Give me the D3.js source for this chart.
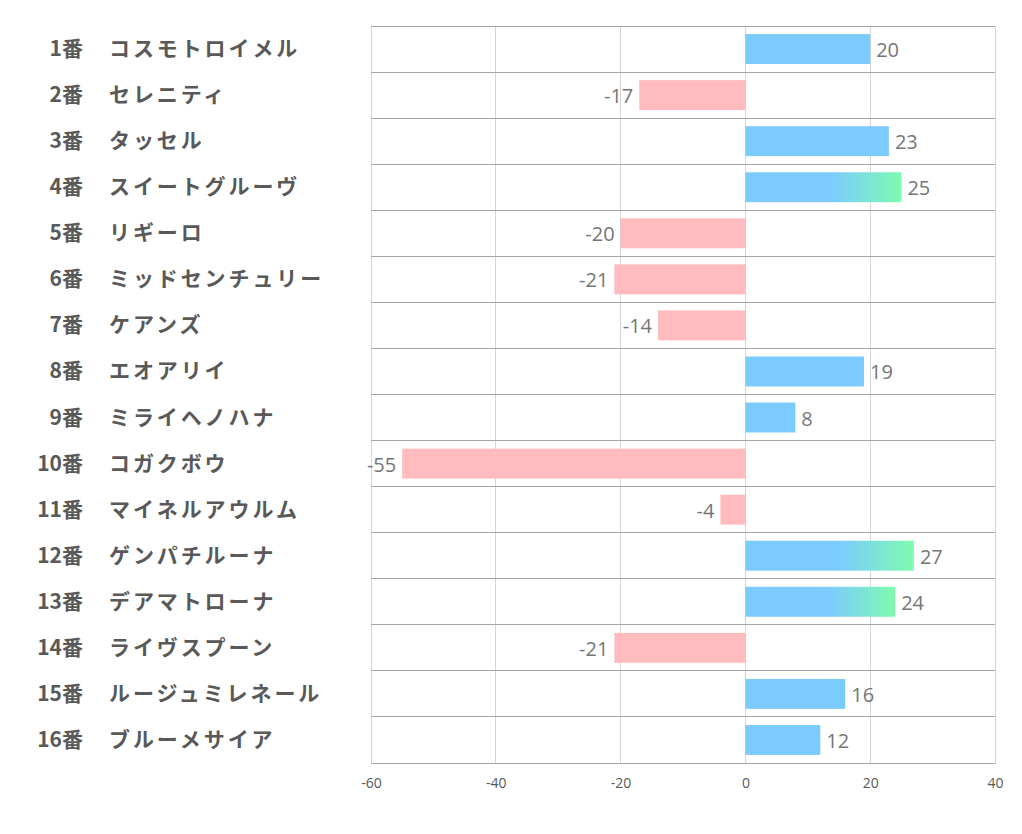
<!DOCTYPE html>
<html><head><meta charset="utf-8">
<script src="https://cdn.jsdelivr.net/npm/d3@7"></script>
<style>body{margin:0;background:#fff;}</style>
</head><body><svg id="c" width="1022" height="834"></svg>
<script>
const numbers = ["1番","2番","3番","4番","5番","6番","7番","8番","9番","10番","11番","12番","13番","14番","15番","16番"];
const names = ["コスモトロイメル","セレニティ","タッセル","スイートグルーヴ","リギーロ","ミッドセンチュリー","ケアンズ","エオアリイ","ミライヘノハナ","コガクボウ","マイネルアウルム","ゲンパチルーナ","デアマトローナ","ライヴスプーン","ルージュミレネール","ブルーメサイア"];
const values = [20,-17,23,25,-20,-21,-14,19,8,-55,-4,27,24,-21,16,12];
const highlight = [false,false,false,true,false,false,false,false,false,false,false,true,true,false,false,false];
const xTicks = [-60,-40,-20,0,20,40];

const svg = d3.select("#c");
const L=371,R=995,T=26,B=763;
const x = d3.scaleLinear().domain([-60,40]).range([L,R]);
const y = d3.scaleBand().domain(d3.range(values.length)).range([T,B]).paddingInner(0.35).paddingOuter(0.175);
const step = y.step();

const defs = svg.append("defs");
const g = defs.append("linearGradient").attr("id","grad").attr("x1","0%").attr("x2","100%").attr("y1","0%").attr("y2","0%");
g.append("stop").attr("offset","55%").attr("stop-color","#7ccbff");
g.append("stop").attr("offset","100%").attr("stop-color","#7dfbaf");

// vertical grid
svg.append("g").selectAll("line").data(xTicks).join("line")
  .attr("x1",d=>x(d)).attr("x2",d=>x(d)).attr("y1",T).attr("y2",B)
  .attr("stroke","#d4d4d4").attr("stroke-width",1).attr("shape-rendering","crispEdges");
// horizontal separators
svg.append("g").selectAll("line").data(d3.range(values.length+1)).join("line")
  .attr("x1",L).attr("x2",R).attr("y1",i=>T+i*step).attr("y2",i=>T+i*step)
  .attr("stroke","#a6a6a6").attr("stroke-width",1).attr("shape-rendering","crispEdges");

// bars
svg.append("g").selectAll("rect").data(values).join("rect")
  .attr("x",d=>x(Math.min(0,d))).attr("width",d=>Math.abs(x(d)-x(0)))
  .attr("y",(d,i)=>y(i)).attr("height",y.bandwidth())
  .attr("fill",(d,i)=>d<0?"#ffbbbe":(highlight[i]?"url(#grad)":"#7ccbff"));

// value labels
svg.append("g").selectAll("text").data(values).join("text")
  .attr("x",d=>d<0?x(d)-6:x(d)+6)
  .attr("y",(d,i)=>y(i)+y.bandwidth()/2+8)
  .attr("text-anchor",d=>d<0?"end":"start")
  .attr("font-family","'Open Sans','Noto Sans',sans-serif").attr("font-size",20)
  .attr("fill","#767676").text(d=>String(d));

// category labels
const lab = svg.append("g").selectAll("g").data(values).join("g");
lab.append("text").attr("x",83).attr("y",(d,i)=>y(i)+y.bandwidth()/2+7)
  .attr("text-anchor","end").attr("font-family","'Noto Sans CJK JP',sans-serif").attr("font-weight","bold")
  .attr("font-size",21).attr("fill","#595959").text((d,i)=>numbers[i]);
lab.append("text").attr("x",109).attr("y",(d,i)=>y(i)+y.bandwidth()/2+7)
  .attr("text-anchor","start").attr("font-family","'Noto Sans CJK JP',sans-serif").attr("font-weight","bold")
  .attr("font-size",21).attr("letter-spacing","2.9px").attr("fill","#595959").text((d,i)=>names[i]);

// x axis
const ax = svg.append("g").attr("transform",`translate(0,${B})`)
  .call(d3.axisBottom(x).tickValues(xTicks).tickSize(0).tickPadding(15).tickFormat(d=>String(d)));
ax.select(".domain").attr("stroke","#a6a6a6");
ax.selectAll("text").attr("font-family","'Open Sans',sans-serif").attr("font-size",14).attr("fill","#595959");
</script></body></html>
